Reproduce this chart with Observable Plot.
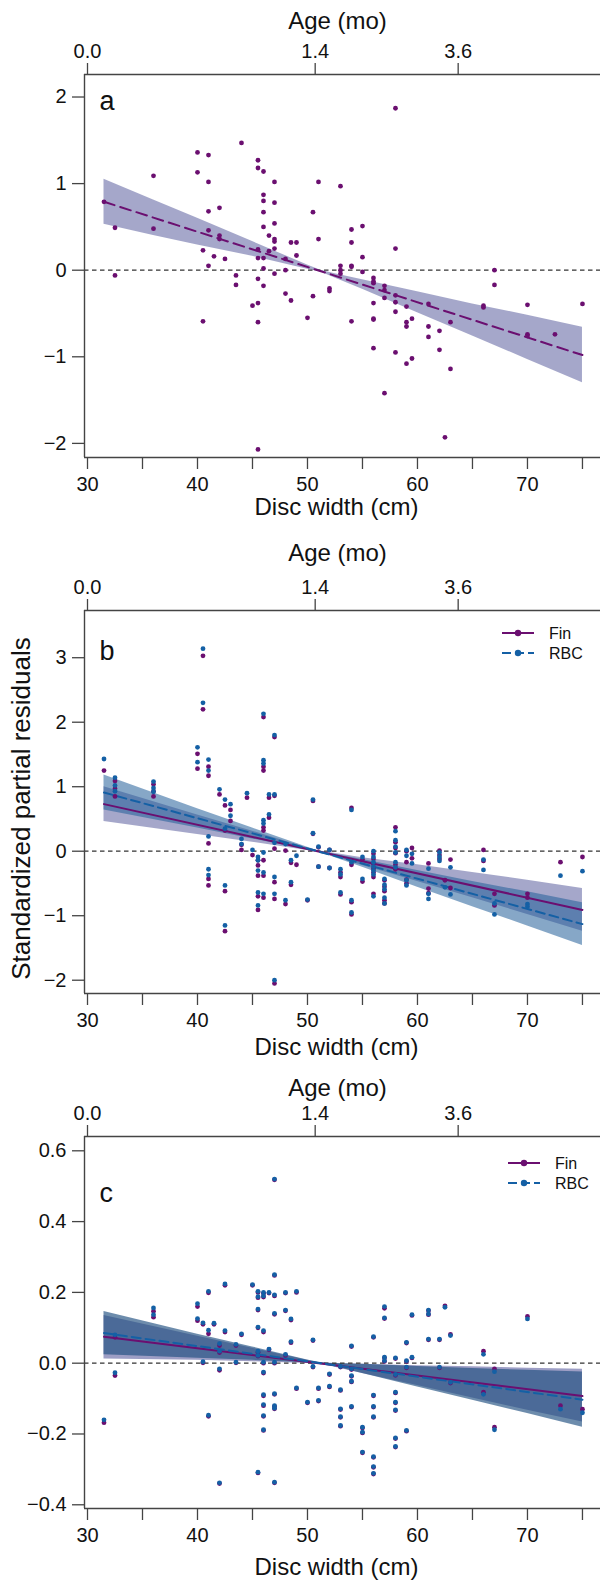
<!DOCTYPE html>
<html><head><meta charset="utf-8">
<script src="https://cdn.jsdelivr.net/npm/d3@7"></script>
<script src="https://cdn.jsdelivr.net/npm/@observablehq/plot@0.6"></script>
<style>
body{margin:0;background:#fff;}
#chart{position:relative;width:600px;height:1580px;overflow:hidden;background:#fff;}
#chart svg{display:block;}
</style></head><body><div id="chart"></div>
<script>
// ---------- shared axis data ----------
const xTickValues = [30,35,40,45,50,55,60,65,70,75];
const ageTickLabels = ["0.0","1.4","3.6"];
const ageTickDiscWidth = [30, 50.7, 63.7];
const seriesNames = ["Fin","RBC"];

// ---------- panel a (single series) ----------
const aX = [31.5,32.5,36,40,40.5,41,41.5,42,42.5,43.5,44,45,45.5,46,46.5,47,48,48.5,49,50,50.5,51,52,53,54,55,56,57,58,59,59.5,61,62,62.5,63,66,67,70,72.5,75];
const aY = [
 [0.79],[0.49,-0.06],[1.09,0.48],[1.36,1.13],[0.23,-0.59],[1.33,1.02,0.68,0.46,0.05],[0.16],[0.72,0.40,0.36],[0.13],[-0.06,-0.17],
 [1.47],[-0.41],[1.27,1.18,0.24,0.14,-0.10,-0.38,-0.60,-2.07],[1.14,0.87,0.80,0.67,0.50,0.14,0.02,-0.18],[0.40,0.22],
 [1.02,0.78,0.54,0.36,0.33,0.25,-0.04],[0.13,0.00,-0.27],[0.32,-0.35],[0.32,0.17],[-0.55],[0.67,-0.30],[1.02,0.36],[-0.21,-0.24],
 [0.97,0.05,0.00,-0.04],[0.47,0.32,0.05,0.04,-0.59],[0.51,0.15,-0.02],[-0.09,-0.13,-0.15,-0.38,-0.56,-0.57,-0.90],
 [-0.18,-0.23,-0.32,-1.42],[1.87,0.25,-0.29,-0.37,-0.48,-0.95],[-0.42,-0.60,-0.65,-1.08],[-0.56,-1.02],[-0.39,-0.65,-0.77],
 [-0.70,-0.92],[-1.93],[-0.60,-1.14],[-0.41,-0.43],[0.00,-0.17],[-0.40,-0.74,-0.76],[-0.74],[-0.39]
];
const aFitX = [31.5,75];
const aFitY = [0.79,-0.98];
const aBandX  = [31.5,36,40,45,50,51.2,52.5,55,60,65,70,75];
const aBandLo = [0.53,0.40,0.29,0.16,0.01,-0.02,-0.09,-0.22,-0.49,-0.76,-1.03,-1.30];
const aBandHi = [1.05,0.81,0.60,0.33,0.06,0.00,-0.04,-0.11,-0.25,-0.39,-0.52,-0.66];

// ---------- panel b (Fin / RBC) ----------
const bX = [31.5,32.5,36,40,40.5,41,42,42.5,43,44,44.5,45,45.5,46,46.5,47,48,48.5,49,50,50.5,51,52,53,54,55,56,57,58,59,59.5,61,62,62.5,63,66,67,70,73,75];
const bFin = [
 [1.25],[1.09,0.97,0.85],[1.04,0.93,0.85],[1.51,1.28],[3.03,2.20],[1.31,1.17,0.12,-0.43,-0.53],[0.88],[0.71,0.32,-0.62,-1.24],
 [0.64,0.47],[0.10,0.02],[0.83],[-0.06],[-0.14,-0.22,-0.38,-0.70,-0.91],[2.08,1.31,1.25,0.37,0.32,-0.14,-0.38,-0.72],[0.83,0.52],
 [1.77,0.86,0.04,-0.48,-0.74,-2.05],[0.01,-0.82],[-0.18,-0.52],[-0.21],[-0.76],[0.78,0.27],[0.06,-0.24],[0.02,-0.26],
 [-0.33,-0.40,-0.67],[0.67,-0.21,-0.79,-0.98],[-0.13,-0.47],[-0.04,-0.12,-0.20,-0.27,-0.33,-0.40,-0.66],[-0.45,-0.55,-0.62,-0.76,-0.81],
 [0.37,0.14,0.05,-0.03,-0.21,-0.28],[0.00,-0.17,-0.44,-0.50],[0.05,-0.11],[-0.19,-0.58,-0.65],[0.01,-0.06,-0.12],[-0.45],
 [-0.13,-0.57],[0.02,-0.15],[-0.66,-0.84],[-0.66,-0.72],[-0.17],[-0.09]
];
const bRbc = [
 [1.43],[1.14,1.02,0.93],[1.08,0.98,0.92],[1.61,1.38],[3.14,2.30],[1.42,1.25,0.23,-0.28,-0.37],[0.96],[0.80,0.35,-0.53,-1.15],
 [0.73,0.55],[0.19,0.11],[0.90],[0.02],[-0.09,-0.14,-0.30,-0.64,-0.84],[2.13,1.41,1.36,0.48,0.43,-0.02,-0.33,-0.66],[0.88,0.57],
 [1.80,0.88,0.13,-0.40,-0.66,-2.00],[0.11,-0.76],[-0.14,-0.48],[-0.07],[-0.75],[0.80,0.28],[0.07,-0.24],[0.02,-0.26],
 [-0.28,-0.36,-0.64],[0.64,-0.17,-0.76,-0.95],[-0.09,-0.43],[0.00,-0.09,-0.17,-0.24,-0.30,-0.36,-0.70],[-0.43,-0.52,-0.59,-0.72,-0.81],
 [0.31,0.17,0.07,-0.02,-0.17,-0.25],[0.02,-0.07,-0.45,-0.53],[-0.04,-0.19],[-0.27,-0.66,-0.74],[-0.02,-0.09,-0.15],[-0.56],
 [-0.25,-0.67],[-0.13,-0.29],[-0.81,-0.98],[-0.82,-0.86],[-0.38],[-0.31]
];
const bFitX = [31.5,75];
const bFitFin = [0.73,-0.91];
const bFitRbc = [0.91,-1.13];
const bBandX  = [31.5,40,45,50,50.9,52,55,60,65,70,75];
const bFinLo = [0.46,0.26,0.14,0.01,-0.01,-0.06,-0.22,-0.47,-0.72,-0.98,-1.24];
const bFinHi = [1.00,0.56,0.31,0.05,0.01,-0.02,-0.10,-0.21,-0.33,-0.45,-0.58];
const bRbcLo = [0.64,0.36,0.19,0.02,-0.01,-0.07,-0.25,-0.56,-0.86,-1.16,-1.46];
const bRbcHi = [1.18,0.66,0.36,0.06,0.01,-0.03,-0.13,-0.30,-0.47,-0.63,-0.80];

// ---------- panel c (Fin / RBC) ----------
const cX = [31.5,32.5,36,40,40.5,41,41.5,42,42.5,43.5,44,45,45.5,46,46.5,47,48,48.5,49,50,50.5,51,52,53,54,55,56,57,58,59,59.5,61,62,62.5,63,66,67,70,73,75];
const cFin = [
 [-0.168],[0.073,-0.035],[0.147,0.130],[0.160,0.120],[0.110,0.001],[0.199,0.083,-0.150],[0.110],[0.050,0.030,-0.020,-0.340],
 [0.220,0.088],[0.050,0.001],[0.080],[0.220],[0.200,0.185,0.150,0.100,0.031,0.020,-0.310],
 [0.197,0.187,0.088,0.000,-0.028,-0.092,-0.120,-0.150,-0.190],[0.198,0.038],
 [0.518,0.248,0.190,0.138,0.000,-0.088,-0.122,-0.129,-0.338],[0.198,0.148,0.022],[0.122,0.058],[0.200,-0.072],[-0.112],
 [0.064,-0.011],[-0.072,-0.107],[-0.032,-0.067],[-0.011,-0.077,-0.131,-0.153,-0.178],[0.047,-0.018,-0.037,-0.053,-0.124],
 [-0.183,-0.197,-0.253],[0.073,-0.092,-0.124,-0.153,-0.266,-0.294,-0.313],[0.155,0.126,0.015,0.005],
 [0.013,-0.034,-0.084,-0.112,-0.134,-0.213,-0.237],[0.057,0.005,-0.013,-0.192],[0.135,0.015],[0.148,0.137,0.066],
 [0.066,-0.013],[0.162],[0.081,-0.056],[0.034,-0.082],[-0.016,-0.181],[0.132],[-0.120],[-0.130]
];
const cRbc = [
 [-0.160],[0.080,-0.027],[0.156,0.137],[0.168,0.126],[0.114,0.004],[0.203,0.093,-0.147],[0.113],[0.055,0.034,-0.016,-0.338],
 [0.224,0.092],[0.053,0.003],[0.083],[0.222],[0.203,0.188,0.153,0.102,0.034,0.022,-0.308],
 [0.200,0.190,0.092,0.003,-0.025,-0.089,-0.117,-0.148,-0.188],[0.200,0.040],
 [0.520,0.250,0.193,0.141,0.003,-0.086,-0.120,-0.127,-0.336],[0.200,0.150,0.025],[0.125,0.061],[0.203,-0.070],[-0.110],
 [0.066,-0.009],[-0.070,-0.105],[-0.030,-0.065],[-0.009,-0.075,-0.129,-0.151,-0.176],[0.049,-0.016,-0.035,-0.051,-0.122],
 [-0.181,-0.195,-0.251],[0.075,-0.090,-0.122,-0.151,-0.264,-0.292,-0.311],[0.160,0.128,0.017,0.007],
 [0.015,-0.032,-0.082,-0.110,-0.132,-0.211,-0.235],[0.059,0.007,-0.011,-0.190],[0.137,0.017],[0.150,0.139,0.068],
 [0.068,-0.011],[0.158],[0.078,-0.054],[0.025,-0.088],[-0.024,-0.188],[0.125],[-0.130],[-0.140]
];
const cFitX = [31.5,75];
const cFitFin = [0.075,-0.093];
const cFitRbc = [0.085,-0.103];
const cBandX  = [31.5,40,45,50,51,52,55,60,65,70,75];
const cFinLo = [0.012,0.008,0.004,-0.001,-0.003,-0.008,-0.029,-0.063,-0.098,-0.133,-0.166];
const cFinHi = [0.135,0.076,0.042,0.008,0.002,-0.001,-0.003,-0.007,-0.010,-0.014,-0.017];
const cRbcLo = [0.024,0.014,0.008,0.001,-0.001,-0.006,-0.029,-0.067,-0.105,-0.142,-0.181];
const cRbcHi = [0.146,0.082,0.046,0.009,0.003,0.000,-0.003,-0.009,-0.015,-0.020,-0.025];

// ---------- styling ----------
const FONT = "'Liberation Sans', Arial, Helvetica, sans-serif";
const PURPLE = "#6b0f70", BLUE = "#1460a5";
const AXIS = "#444";
const xDomain = [29.727, 76.64];

const flat = (xs, groups) => xs.flatMap((x, i) => groups[i].map(y => ({x, y})));
const rows = (xs, a, b) => xs.map((x, i) => ({x, lo: a[i], hi: b[i]}));
const fit = (xs, ys) => xs.map((x, i) => ({x, y: ys[i]}));

function makePanel(p) {
  const marks = [];
  p.bands.forEach(b => marks.push(Plot.areaY(b.data, {x: "x", y1: "lo", y2: "hi", fill: b.fill, fillOpacity: b.op})));
  marks.push(Plot.ruleY([0], {stroke: "#333", strokeWidth: 1.2, strokeDasharray: "4.5,3.5"}));
  p.fits.forEach(f => marks.push(Plot.line(f.data, {x: "x", y: "y", stroke: f.color, strokeWidth: 2, strokeDasharray: f.dash})));
  p.dots.forEach(d => marks.push(Plot.dot(d.data, {x: "x", y: "y", r: 2.4, fill: d.color})));
  // frame lines (left, top, bottom)
  marks.push(Plot.ruleX([xDomain[0]], {stroke: AXIS, strokeWidth: 1.4}));
  marks.push(Plot.ruleY([p.yDomain[1]], {stroke: AXIS, strokeWidth: 1.4}));
  marks.push(Plot.ruleY([p.yDomain[0]], {stroke: AXIS, strokeWidth: 1.4}));
  // axes
  marks.push(Plot.axisX({anchor: "bottom", ticks: xTickValues, tickFormat: d => d % 10 === 0 ? String(d) : "",
    tickSize: 12, tickPadding: 7, label: null, stroke: AXIS, fill: "#111", fontSize: 20, strokeWidth: 1.3}));
  marks.push(Plot.axisX({anchor: "top", ticks: ageTickDiscWidth, tickFormat: d => ageTickLabels[ageTickDiscWidth.indexOf(d)],
    tickSize: 12, tickPadding: 5, label: null, stroke: AXIS, fill: "#111", fontSize: 20, strokeWidth: 1.3}));
  marks.push(Plot.axisY({anchor: "left", ticks: p.yTicks, tickFormat: p.yFormat,
    tickSize: 12, tickPadding: 6, label: null, stroke: AXIS, fill: "#111", fontSize: 20, strokeWidth: 1.3}));
  // titles
  marks.push(Plot.text(["Age (mo)"], {text: d => d, frameAnchor: "top", dx: -5, dy: p.ageY - p.mt, fontSize: 24, lineAnchor: "middle", fill: "#111"}));
  marks.push(Plot.text(["Disc width (cm)"], {text: d => d, frameAnchor: "bottom", dx: -6, dy: p.discY - (p.h - p.mb), fontSize: 24, lineAnchor: "middle", fill: "#111"}));
  marks.push(Plot.text([p.letter], {text: d => d, frameAnchor: "top-left", dx: 15, dy: p.letterY - p.mt, fontSize: 27, textAnchor: "start", lineAnchor: "bottom", fill: "#111"}));
  if (p.yTitle) marks.push(Plot.text([p.yTitle], {text: d => d, frameAnchor: "left", rotate: -90, textAnchor: "middle",
    dx: 21 - 84, dy: p.yTitleY - (p.mt + p.h - p.mb) / 2, fontSize: 26, lineAnchor: "middle", fill: "#111"}));
  return Plot.plot({
    width: 600, height: p.h, marginLeft: 84, marginRight: 0, marginTop: p.mt, marginBottom: p.mb,
    x: {domain: xDomain}, y: {domain: p.yDomain},
    style: {fontFamily: FONT, fontSize: "20px", background: "#fff", overflow: "visible"},
    marks
  });
}

const chart = document.getElementById("chart");

chart.append(makePanel({
  h: 531, mt: 74, mb: 74, yDomain: [-2.163, 2.26], yTicks: [-2,-1,0,1,2], yFormat: d3.format("d"),
  ageY: 21, discY: 507, letter: "a", letterY: 109,
  bands: [{data: rows(aBandX, aBandLo, aBandHi), fill: "#4c4f96", op: 0.5}],
  fits: [{data: fit(aFitX, aFitY), color: PURPLE, dash: "11,6"}],
  dots: [{data: flat(aX, aY), color: PURPLE}]
}));

chart.append(makePanel({
  h: 531, mt: 79, mb: 69, yDomain: [-2.206, 3.732], yTicks: [-2,-1,0,1,2,3], yFormat: d3.format("d"),
  ageY: 22, discY: 516, letter: "b", letterY: 128, yTitle: "Standardized partial residuals", yTitleY: 277,
  bands: [{data: rows(bBandX, bFinLo, bFinHi), fill: "#4c4f96", op: 0.5},
          {data: rows(bBandX, bRbcLo, bRbcHi), fill: "#235f99", op: 0.55}],
  fits: [{data: fit(bFitX, bFitFin), color: PURPLE, dash: null},
         {data: fit(bFitX, bFitRbc), color: BLUE, dash: "9,5"}],
  dots: [{data: flat(bX, bFin), color: PURPLE}, {data: flat(bX, bRbc), color: BLUE}]
}));

chart.append(makePanel({
  h: 518, mt: 74, mb: 72, yDomain: [-0.4105, 0.6404], yTicks: [-0.4,-0.2,0,0.2,0.4,0.6], yFormat: d3.format(".1f"),
  ageY: 26, discY: 505, letter: "c", letterY: 139,
  bands: [{data: rows(cBandX, cFinLo, cFinHi), fill: "#4c4f96", op: 0.55},
          {data: rows(cBandX, cRbcLo, cRbcHi), fill: "#1f4e80", op: 0.65}],
  fits: [{data: fit(cFitX, cFitFin), color: PURPLE, dash: null},
         {data: fit(cFitX, cFitRbc), color: BLUE, dash: "9,5"}],
  dots: [{data: flat(cX, cFin), color: PURPLE}, {data: flat(cX, cRbc), color: BLUE}]
}));

// legends (overlay)
const overlay = d3.select(chart).append("svg")
  .attr("width", 600).attr("height", 1580)
  .style("position", "absolute").style("left", "0px").style("top", "0px").style("pointer-events", "none");
const legendSpots = [{x0: 502, y0: 633}, {x0: 508, y0: 1163}];
const legendColors = [PURPLE, BLUE];
const legendDash = [null, "9,4"];
legendSpots.forEach(s => {
  seriesNames.forEach((name, i) => {
    const y = s.y0 + i * 20;
    const g = overlay.append("g");
    g.append("line").attr("x1", s.x0).attr("x2", s.x0 + 32).attr("y1", y).attr("y2", y)
      .attr("stroke", legendColors[i]).attr("stroke-width", 2).attr("stroke-dasharray", legendDash[i]);
    g.append("circle").attr("cx", s.x0 + 16).attr("cy", y).attr("r", 3.2).attr("fill", legendColors[i]);
    g.append("text").attr("x", s.x0 + 47).attr("y", y).attr("dy", "0.35em")
      .attr("font-family", FONT).attr("font-size", 16).attr("fill", "#111").text(name);
  });
});
</script></body></html>
